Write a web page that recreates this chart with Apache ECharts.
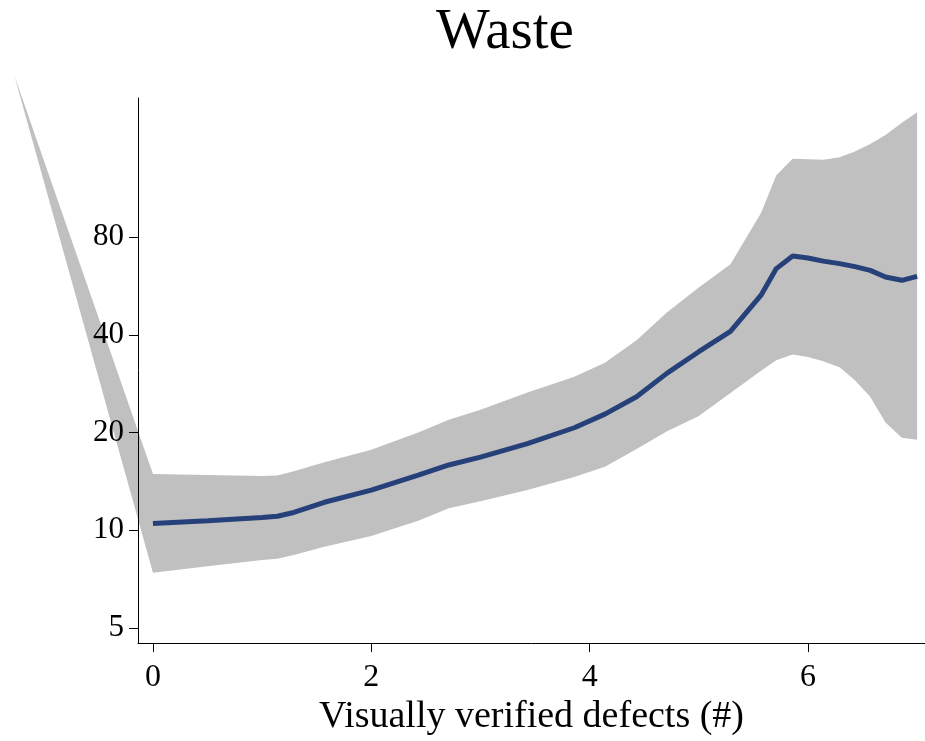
<!DOCTYPE html>
<html>
<head>
<meta charset="utf-8">
<script src="https://cdn.jsdelivr.net/npm/echarts@6/dist/echarts.min.js"></script>
<style>
  html, body { margin: 0; padding: 0; background: #fff; }
  #chart { width: 925px; height: 741px; }
</style>
</head>
<body>
<div id="chart"></div>
<script>
// Predicted waste by number of visually verified defects, with confidence band
const defects = [0, 0.5, 1.0, 1.14, 1.29, 1.57, 2.0, 2.43, 2.71, 3.0, 3.43, 3.86, 4.14, 4.43,
  4.71, 5.0, 5.29, 5.57, 5.71, 5.86, 6.0, 6.14, 6.29, 6.43, 6.57, 6.71, 6.86, 7.0];
const wasteMean = [10.5, 10.7, 10.95, 11.05, 11.35, 12.2, 13.3, 14.8, 15.9, 16.8, 18.5, 20.7, 22.8, 25.8,
  30.5, 35.5, 41.0, 53, 64, 70.0, 69, 67.5, 66.3, 64.9, 63.2, 60.3, 58.9, 60.6];
const wasteLower = [7.4, 7.75, 8.1, 8.17, 8.4, 8.9, 9.6, 10.7, 11.7, 12.3, 13.3, 14.6, 15.7, 17.8,
  20.2, 22.5, 26.5, 31, 33.4, 34.8, 34.2, 33.2, 31.8, 29, 25.8, 21.5, 19.3, 19.0];
const wasteUpper = [14.9, 14.8, 14.7, 14.75, 15.2, 16.2, 17.7, 20.0, 21.9, 23.5, 26.6, 29.7, 32.8, 38.5,
  47, 56, 66, 95, 124, 139.5, 139, 138.5, 141, 147, 155, 165, 180, 194];
// closing vertex of the band outline
const bandCloseX = -1.27;
const bandCloseY = 252;

const yTicks = [5, 10, 20, 40, 80];
const xTicks = [0, 2, 4, 6];

// log2 scale relative to 5
const ly = v => Math.log2(v / 5);

const serif = '"Liberation Serif", "Times New Roman", serif';

const chart = echarts.init(document.getElementById('chart'), null, { renderer: 'canvas' });

const bandPoints = [[bandCloseX, ly(bandCloseY)]]
  .concat(defects.map((x, i) => [x, ly(wasteUpper[i])]))
  .concat(defects.map((x, i) => [x, ly(wasteLower[i])]).reverse());

chart.setOption({
  animation: false,
  backgroundColor: '#ffffff',
  title: {
    text: 'Waste',
    left: 431,
    top: 0,
    textStyle: { fontFamily: serif, fontSize: 57, fontWeight: 'normal', color: '#000' }
  },
  grid: { left: 138, right: 0, top: 98, bottom: 93, containLabel: false },
  xAxis: {
    type: 'value',
    z: 10,
    min: -0.137,
    max: 7.072,
    name: 'Visually verified defects (#)',
    nameLocation: 'middle',
    nameGap: 50,
    nameTextStyle: { fontFamily: serif, fontSize: 38, color: '#000' },
    axisLine: { show: true, onZero: false, lineStyle: { color: '#000', width: 1 } },
    axisTick: { show: true, length: 9, customValues: xTicks, lineStyle: { color: '#000', width: 1 } },
    axisLabel: { customValues: xTicks, margin: 18, fontFamily: serif, fontSize: 32, color: '#000' },
    splitLine: { show: false }
  },
  yAxis: {
    type: 'value',
    z: 10,
    min: -0.154,
    max: 5.424,
    axisLine: { show: true, onZero: false, lineStyle: { color: '#000', width: 1 } },
    axisTick: { show: true, length: 9, customValues: yTicks.map(ly), lineStyle: { color: '#000', width: 1 } },
    axisLabel: {
      customValues: yTicks.map(ly),
      margin: 14,
      fontFamily: serif, fontSize: 31, color: '#000',
      formatter: v => String(Math.round(5 * Math.pow(2, v)))
    },
    splitLine: { show: false }
  },
  series: [
    {
      type: 'custom',
      clip: false,
      silent: true,
      z: 1,
      data: [[0, 0]],
      renderItem: (params, api) => ({
        type: 'polygon',
        shape: { points: bandPoints.map(p => api.coord(p)) },
        style: { fill: '#c0c0c0' }
      })
    },
    {
      type: 'line',
      z: 2,
      showSymbol: false,
      clip: false,
      data: defects.map((x, i) => [x, ly(wasteMean[i])]),
      lineStyle: { color: '#26407a', width: 5 }
    }
  ]
});
</script>
</body>
</html>
